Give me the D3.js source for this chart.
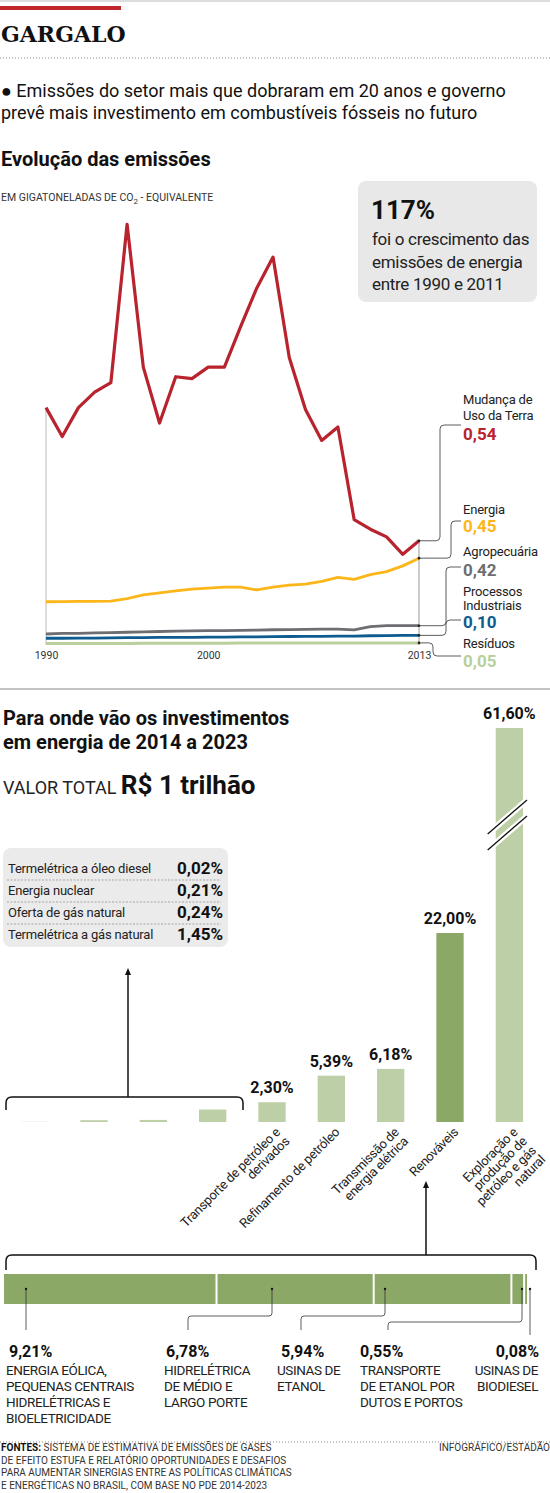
<!DOCTYPE html>
<html><head><meta charset="utf-8">
<script src="https://cdn.jsdelivr.net/npm/d3@7"></script>
<style>body{margin:0;background:#fff}svg{display:block}</style></head>
<body><svg id="c" width="550" height="1493"></svg>
<script>
const years = d3.range(1990, 2014);
const mudanca = [1.23,1.08,1.23,1.31,1.36,2.18,1.44,1.15,1.39,1.38,1.44,1.44,1.65,1.85,2.01,1.49,1.22,1.06,1.13,0.65,0.60,0.56,0.47,0.54];
const energia = [0.224,0.225,0.226,0.226,0.227,0.24,0.26,0.27,0.28,0.29,0.295,0.30,0.30,0.285,0.30,0.31,0.315,0.33,0.35,0.34,0.365,0.38,0.41,0.45];
const agro = [0.057,0.06,0.06,0.063,0.064,0.066,0.068,0.07,0.072,0.073,0.075,0.074,0.076,0.077,0.079,0.08,0.081,0.082,0.082,0.078,0.095,0.1,0.1,0.1];
const processos = [0.035,0.035,0.036,0.036,0.037,0.038,0.038,0.039,0.04,0.04,0.041,0.041,0.042,0.042,0.043,0.044,0.045,0.045,0.046,0.046,0.048,0.049,0.05,0.05];
const residuos = [0.008,0.008,0.008,0.008,0.008,0.008,0.009,0.009,0.009,0.009,0.009,0.009,0.01,0.01,0.01,0.01,0.01,0.01,0.01,0.01,0.01,0.011,0.011,0.011];
const seriesNames = ["Mudança de|Uso da Terra","Energia","Agropecuária","Processos|Industriais","Resíduos"];
const seriesLabels = ["0,54","0,45","0,42","0,10","0,05"];
const seriesColors = ["#b8232e","#fcb61a","#6d6e71","#0d5b8f","#b9cf9c"];
const xTicks = [1990, 2000, 2013];

const invCats = ["Termelétrica a óleo diesel","Energia nuclear","Oferta de gás natural","Termelétrica a gás natural","Transporte de petróleo e|derivados","Refinamento de petróleo","Transmissão de|energia elétrica","Renováveis","Exploração e|produção de|petróleo e gás|natural"];
const invVals = [0.02,0.21,0.24,1.45,2.30,5.39,6.18,22.00,61.60];
const invLabels = ["0,02%","0,21%","0,24%","1,45%","2,30%","5,39%","6,18%","22,00%","61,60%"];
const renCats = ["ENERGIA EÓLICA,|PEQUENAS CENTRAIS|HIDRELÉTRICAS E|BIOELETRICIDADE","HIDRELÉTRICA|DE MÉDIO E|LARGO PORTE","USINAS DE|ETANOL","TRANSPORTE|DE ETANOL POR|DUTOS E PORTOS","USINAS DE|BIODIESEL"];
const renVals = [9.21,6.78,5.94,0.55,0.08];
const renLabels = ["9,21%","6,78%","5,94%","0,55%","0,08%"];

const svg = d3.select("#c");
const N = "Roboto,'Noto Sans',sans-serif";
const B = "Roboto,'Noto Sans',sans-serif";
function txt(x,y,s,o={}){return svg.append("text").attr("x",x).attr("y",y).text(s)
  .attr("font-family",o.f||N).attr("font-size",o.s||12).attr("font-weight",o.w||"normal")
  .attr("fill",o.c||"#222").attr("text-anchor",o.a||"start").attr("letter-spacing",o.ls||0);}

// header
svg.append("line").attr("x1",0).attr("x2",550).attr("y1",1).attr("y2",1).attr("stroke","#bbb");
svg.append("rect").attr("x",0).attr("y",6).attr("width",121).attr("height",4).attr("fill","#c0272d");
txt(1,42,"GARGALO",{f:"'DejaVu Serif','Liberation Serif',serif",s:22,w:"bold",c:"#111"});
svg.append("line").attr("x1",0).attr("x2",550).attr("y1",58).attr("y2",58).attr("stroke","#888").attr("stroke-dasharray","1,2");
txt(1,97,"● Emissões do setor mais que dobraram em 20 anos e governo",{f:B,s:18,c:"#111"});
txt(1,119,"prevê mais investimento em combustíveis fósseis no futuro",{f:B,s:18,c:"#111"});
txt(1,166,"Evolução das emissões",{f:B,s:20,w:"bold",c:"#111"});
const u = txt(1,201,"EM GIGATONELADAS DE CO",{s:10.5,c:"#333"});
u.append("tspan").attr("dy",3).attr("font-size",8).text("2");
u.append("tspan").attr("dy",-3).text(" - EQUIVALENTE");

// info box
svg.append("rect").attr("x",358).attr("y",181).attr("width",179).attr("height",121).attr("rx",8).attr("fill","#e8e8e8");
txt(371,219,"117%",{f:B,s:26,w:"bold",c:"#111"});
["foi o crescimento das","emissões de energia","entre 1990 e 2011"].forEach((s,i)=>txt(372,245+i*22.5,s,{s:17,c:"#222",ls:-0.3}));

// line chart
const x = d3.scaleLinear().domain([1990,2013]).range([46,419]);
const y = d3.scaleLinear().domain([0,1]).range([645,452]);
const all = [mudanca,energia,agro,processos,residuos];
svg.append("line").attr("x1",x(1990)).attr("x2",x(1990)).attr("y1",y(0)).attr("y2",y(mudanca[0])).attr("stroke","#bbb");
svg.append("line").attr("x1",x(2013)).attr("x2",x(2013)).attr("y1",y(0)).attr("y2",y(mudanca[23])).attr("stroke","#999");
const line = d3.line().x((d,i)=>x(years[i])).y(d=>y(d));
[4,3,2,1,0].forEach(k=>svg.append("path").attr("d",line(all[k])).attr("fill","none")
  .attr("stroke",seriesColors[k]).attr("stroke-width",k==0?3.2:(k==4?3:2.8)).attr("stroke-linejoin","round"));
svg.append("g").attr("transform",`translate(0,${y(0)})`)
  .call(d3.axisBottom(x).tickValues(xTicks).tickFormat(d3.format("d")).tickSize(0).tickPadding(7))
  .call(g=>{g.select(".domain").remove();g.selectAll("text").attr("font-family",N).attr("font-size",10.5).attr("fill","#333");});
const labNameY = [[404,420],[514],[556],[596,610],[648]];
const labValY = [440,532,576,628,667];
const connY = [425,521,567,620,656];
const connX = [440,451,446,446,433];
all.forEach((s,k)=>{
  labNameY[k].forEach((yy,j)=>txt(463,yy,seriesNames[k].split("|")[j],{s:13,c:"#222",ls:-0.2}));
  txt(463,labValY[k],seriesLabels[k],{f:B,s:17,w:"bold",c:seriesColors[k]});
  const y0 = y(s[23]), xm = connX[k], sg = Math.sign(y0-connY[k]);
  svg.append("path").attr("d",`M${x(2013)},${y0}H${xm-4}Q${xm},${y0} ${xm},${y0-sg*4}V${connY[k]+sg*4}Q${xm},${connY[k]} ${xm+4},${connY[k]}H461`)
    .attr("fill","none").attr("stroke","#333").attr("stroke-width",0.8);
  svg.append("circle").attr("cx",x(2013)).attr("cy",y0).attr("r",1.3).attr("fill","#222");
});

// divider
svg.append("line").attr("x1",0).attr("x2",550).attr("y1",689).attr("y2",689).attr("stroke","#888");
txt(3,725,"Para onde vão os investimentos",{f:B,s:20,w:"bold",c:"#111"});
txt(3,749,"em energia de 2014 a 2023",{f:B,s:20,w:"bold",c:"#111"});
const vt = txt(3,794,"VALOR TOTAL ",{s:18,c:"#222"});
vt.append("tspan").attr("font-family",B).attr("font-weight","bold").attr("font-size",26).attr("fill","#111").text("R$ 1 trilhão");

// bars
const xb = d3.scaleBand().domain(invCats).range([21,523]).paddingInner(0.54).paddingOuter(0);
const yb = d3.scaleLinear().domain([0,22]).range([1122,933]);
const capTop = 728;
invCats.forEach((c,i)=>{
  const v = invVals[i], top = i==8?capTop:yb(v);
  svg.append("rect").attr("x",xb(c)).attr("width",xb.bandwidth()).attr("y",top).attr("height",1122-top)
    .attr("fill",i==7?"#8ba866":"#bdcfa6");
  if(i>=4) txt(xb(c)+xb.bandwidth()/2,top-9,invLabels[i],{f:B,s:16,w:"bold",c:"#111",a:"middle"});
  if(i>=4){
    const lines = c.split("|"), cx = xb(c)+xb.bandwidth()/2+9, cy = 1133;
    const t = svg.append("text").attr("transform",`translate(${cx},${cy}) rotate(-45)`).attr("text-anchor","end")
      .attr("font-family",N).attr("font-size",13).attr("letter-spacing",-0.3).attr("fill","#222");
    lines.forEach((s,j)=>t.append("tspan").attr("x",0).attr("dy",j?13:0).text(s));
  }
});
const bx = xb(invCats[8]);
[0,16].forEach(o=>svg.append("line").attr("x1",bx-8).attr("x2",bx+xb.bandwidth()+4).attr("y1",800+o+34).attr("y2",800+o).attr("stroke","#fff").attr("stroke-width",6));
[0,16].forEach(o=>svg.append("line").attr("x1",bx-8).attr("x2",bx+xb.bandwidth()+4).attr("y1",800+o+34).attr("y2",800+o).attr("stroke","#111").attr("stroke-width",1.3));

// table
svg.append("rect").attr("x",3).attr("y",848).attr("width",225).attr("height",99).attr("rx",8).attr("fill","#ebebeb");
[0,1,2,3].forEach(i=>{
  const yy = 873+i*22;
  txt(8,yy,invCats[i],{s:13,c:"#222",ls:-0.2});
  txt(223,yy+1,invLabels[i],{f:B,s:17,w:"bold",c:"#111",a:"end"});
  if(i<3) svg.append("line").attr("x1",7).attr("x2",221).attr("y1",yy+7).attr("y2",yy+7).attr("stroke","#888").attr("stroke-dasharray","2,1.5").attr("stroke-width",0.7);
});
function arrow(x0,y0,y1){svg.append("line").attr("x1",x0).attr("x2",x0).attr("y1",y0).attr("y2",y1+6).attr("stroke","#111").attr("stroke-width",1.5);
  svg.append("path").attr("d",`M${x0-3},${y1+7}L${x0},${y1}L${x0+3},${y1+7}Z`).attr("fill","#111");}
function bracket(x0,x1,yy,h){svg.append("path").attr("d",`M${x0},${yy+h}V${yy+6}Q${x0},${yy} ${x0+6},${yy}H${x1-6}Q${x1},${yy} ${x1},${yy+6}V${yy+h}`)
  .attr("fill","none").attr("stroke","#111").attr("stroke-width",1.5);}
bracket(6,243,1097,13); arrow(128,1097,968);
bracket(6,536,1255,15); arrow(426,1255,1181);

// stacked renewables bar
const xr = d3.scaleLinear().domain([0,d3.sum(renVals)]).range([4,527]);
let acc = 0;
const labX = [9,166,281,360,539], labA = ["start","start","start","start","end"];
const subX = [6,164,277,360,538];
const dots = [26,272,385,522,530], lxs = [26,188,301,388,530], midYs = [0,1316,1316,1322,0], lys = [1330,1330,1330,1330,1335];
renVals.forEach((v,i)=>{
  const x0 = xr(acc), x1 = xr(acc+v); acc += v;
  svg.append("rect").attr("x",x0).attr("y",1274).attr("width",Math.max(x1-x0-(i<4?2:0),0.5)).attr("height",30).attr("fill","#8ba866");
  const dotX = dots[i], lx = lxs[i], midY = midYs[i], ly = lys[i];
  svg.append("circle").attr("cx",dotX).attr("cy",1289).attr("r",1.2).attr("fill","#111");
  const p = midY? `M${dotX},1289V${midY-3}Q${dotX},${midY} ${dotX-3},${midY}H${lx+3}Q${lx},${midY} ${lx},${midY+3}V${ly}` : `M${dotX},1289V${ly}`;
  svg.append("path").attr("d",p).attr("fill","none").attr("stroke","#333").attr("stroke-width",0.8);
  txt(labX[i],1357,renLabels[i],{f:B,s:16,w:"bold",c:"#111",a:labA[i]});
  renCats[i].split("|").forEach((s,j)=>txt(subX[i],1375+j*16,s,{s:13.5,c:"#222",a:labA[i],ls:-0.4}));
});

// footer
svg.append("line").attr("x1",0).attr("x2",550).attr("y1",1442).attr("y2",1442).attr("stroke","#888").attr("stroke-dasharray","1,2");
const fl = ["SISTEMA DE ESTIMATIVA DE EMISSÕES DE GASES","DE EFEITO ESTUFA E RELATÓRIO OPORTUNIDADES E DESAFIOS","PARA AUMENTAR SINERGIAS ENTRE AS POLÍTICAS CLIMÁTICAS","E ENERGÉTICAS NO BRASIL, COM BASE NO PDE 2014-2023"];
fl.forEach((s,i)=>{const t=txt(1,1451+i*12.6,"",{s:10,c:"#333"});
  if(i==0) t.append("tspan").attr("font-weight","bold").attr("fill","#111").text("FONTES: ");
  t.append("tspan").text(s);});
txt(550,1451,"INFOGRÁFICO/ESTADÃO",{s:10,c:"#333",a:"end"});
</script></body></html>
